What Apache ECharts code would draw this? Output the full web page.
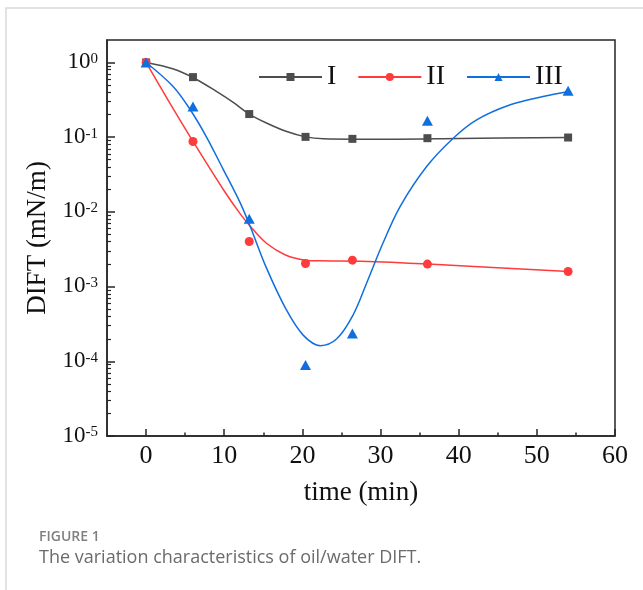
<!DOCTYPE html>
<html><head><meta charset="utf-8">
<script src="https://cdn.jsdelivr.net/npm/echarts@6/dist/echarts.min.js"></script>
<style>html,body{margin:0;padding:0;background:#fff;}#c{width:643px;height:590px;}</style>
</head><body><div id="c"></div>
<script>
// measured points
const timePts = [0, 6, 13.2, 20.4, 26.4, 36, 54];
const diftI   = [1, 0.637, 0.204, 0.101, 0.095, 0.097, 0.099];
const diftII  = [1, 0.0877, 0.00402, 0.00204, 0.00226, 0.00200, 0.00159];
const diftIII = [1, 0.258, 0.0081, 0.000089, 0.000236, 0.166, 0.418];

// fitted curves
const fitTimeI = [0, 3.5, 6, 9, 11.2, 13.2, 15.4, 18, 20.4, 22.7, 26.5, 32, 40, 54.1];
const fitI     = [1, 0.82, 0.63, 0.41, 0.29, 0.204, 0.155, 0.119, 0.101, 0.095, 0.094, 0.094, 0.096, 0.099];
const fitTimeII = [0, 3, 6, 9.9, 12, 13.3, 15.4, 17.9, 20.4, 22.3, 27.5, 36.1, 54.1];
const fitII     = [1, 0.29, 0.088, 0.0198, 0.00955, 0.00646, 0.0038, 0.00263, 0.00226, 0.00221, 0.00218, 0.0020, 0.00159];
const fitTimeIII = [0, 3.46, 5.8, 7.7, 9.9, 12, 13.3, 15.4, 17.9, 20.1, 22.3, 24.4, 26.5, 28.2, 30.3, 32.5, 35.9, 39.3, 42.3, 46.6, 50.8, 54.05];
const fitIII     = [1, 0.477, 0.221, 0.102, 0.0366, 0.0135, 0.00646, 0.00178, 0.0005, 0.000224, 0.000162, 0.0002, 0.00042, 0.0011, 0.0038, 0.0118, 0.0405, 0.097, 0.171, 0.272, 0.351, 0.409];

const seriesNames = ['I', 'II', 'III'];
const xTickLabels = [0, 10, 20, 30, 40, 50, 60];
const xMinorTicks = [5, 15, 25, 35, 45, 55];
const yMajorTicks = [1e-5, 1e-4, 1e-3, 1e-2, 1e-1, 1];
const yMinorMantissas = [2, 3, 4, 5, 6, 7, 8, 9];
const yMinorDecades = [1e-5, 1e-4, 1e-3, 1e-2, 1e-1];
const yMinorTicks = [];
yMinorDecades.forEach(d => yMinorMantissas.forEach(m => yMinorTicks.push(m * d)));

const SERIF = '"Liberation Serif", "Times New Roman", serif';
const AX = '#262626';
const colors = ['#4d4d4d', '#ff3b3b', '#0f6fdf'];
const symbols = ['rect', 'circle', 'triangle'];
const symSizes = [8, 9, [11, 10]];

const pairs = (xs, ys) => xs.map((x, i) => [x, ys[i]]);
const fits = [[fitTimeI, fitI], [fitTimeII, fitII], [fitTimeIII, fitIII]];
const pts = [diftI, diftII, diftIII];

const series = [];
seriesNames.forEach((n, i) => {
  series.push({
    name: n, type: 'line', xAxisIndex: 0, yAxisIndex: 0,
    data: pairs(fits[i][0], fits[i][1]),
    smooth: 0.35, showSymbol: false, symbol: symbols[i],
    lineStyle: { color: colors[i], width: 1.5 },
    itemStyle: { color: colors[i] },
    z: 2, silent: true
  });
});
seriesNames.forEach((n, i) => {
  series.push({
    name: n, type: 'scatter', xAxisIndex: 0, yAxisIndex: 0,
    data: pairs(timePts, pts[i]),
    symbol: symbols[i], symbolSize: symSizes[i],
    itemStyle: { color: colors[i], opacity: 1 },
    z: 5, silent: true
  });
});

const chart = echarts.init(document.getElementById('c'), null, { renderer: 'canvas' });
chart.setOption({
  animation: false,
  backgroundColor: '#fff',
  textStyle: { fontFamily: SERIF },
  grid: { left: 107, right: 28, top: 40, bottom: 154, show: true, borderColor: AX, borderWidth: 1.5, containLabel: false },
  legend: {
    data: seriesNames, left: 253, top: 58, itemWidth: 63, itemHeight: 10, itemGap: 21,
    textStyle: { fontFamily: SERIF, fontSize: 28, color: '#111' }
  },
  xAxis: [{
    type: 'value', min: -5, max: 60, position: 'bottom',
    axisLine: { show: true, onZero: false, lineStyle: { color: AX, width: 1.5 } },
    axisTick: { show: true, inside: true, length: 7, customValues: xTickLabels, lineStyle: { color: AX, width: 1.5 } },
    axisLabel: {
      customValues: xTickLabels, margin: 7, fontFamily: SERIF, fontSize: 26, color: '#111',
      formatter: v => '{a|' + v + '}',
      rich: { a: { fontFamily: SERIF, fontSize: 26, color: '#111' } }
    },
    splitLine: { show: false },
    name: 'time (min)', nameLocation: 'middle', nameGap: 43,
    nameTextStyle: { fontFamily: SERIF, fontSize: 27, color: '#111' }
  }, {
    type: 'value', min: -5, max: 60, position: 'bottom',
    axisLine: { show: false, onZero: false },
    axisTick: { show: true, inside: true, length: 3.5, customValues: xMinorTicks, lineStyle: { color: AX, width: 1.5 } },
    axisLabel: { show: false }, splitLine: { show: false }
  }],
  yAxis: [{
    type: 'log', logBase: 10, min: 1e-5, max: 2, position: 'left',
    axisLine: { show: true, onZero: false, lineStyle: { color: AX, width: 1.5 } },
    axisTick: { show: true, inside: true, length: 8, customValues: yMajorTicks, lineStyle: { color: AX, width: 1.5 } },
    axisLabel: {
      customValues: yMajorTicks, margin: 9, fontFamily: SERIF, fontSize: 23, color: '#111',
      formatter: v => '{b|10}{s|' + Math.round(Math.log10(v)) + '}',
      rich: {
        b: { fontFamily: SERIF, fontSize: 23, color: '#111', lineHeight: 22, padding: [6, 0, 0, 0], verticalAlign: 'bottom' },
        s: { fontFamily: SERIF, fontSize: 15, color: '#111', lineHeight: 22, verticalAlign: 'top' }
      }
    },
    splitLine: { show: false },
    name: 'DIFT (mN/m)', nameLocation: 'middle', nameGap: 55,
    nameTextStyle: { fontFamily: SERIF, fontSize: 27, color: '#111' }
  }, {
    type: 'log', logBase: 10, min: 1e-5, max: 2, position: 'left',
    axisLine: { show: false, onZero: false },
    axisTick: { show: true, inside: true, length: 4, customValues: yMinorTicks, lineStyle: { color: AX, width: 1.2 } },
    axisLabel: { show: false }, splitLine: { show: false }
  }],
  graphic: [
    { type: 'rect', silent: true, shape: { x: 6, y: 8, width: 660, height: 600 }, style: { fill: 'none', stroke: '#d9d9d9', lineWidth: 1.5 } },
    { type: 'text', silent: true, left: 39, top: 530, style: { text: 'FIGURE 1', fontFamily: '"Open Sans", sans-serif', fontSize: 14, fontWeight: 600, fill: '#808080' } },
    { type: 'text', silent: true, left: 39, top: 549, style: { text: 'The variation characteristics of oil/water DIFT.', fontFamily: '"Open Sans", sans-serif', fontSize: 18, fill: '#6b6b6b' } }
  ],
  series: series
});
</script>
</body></html>
